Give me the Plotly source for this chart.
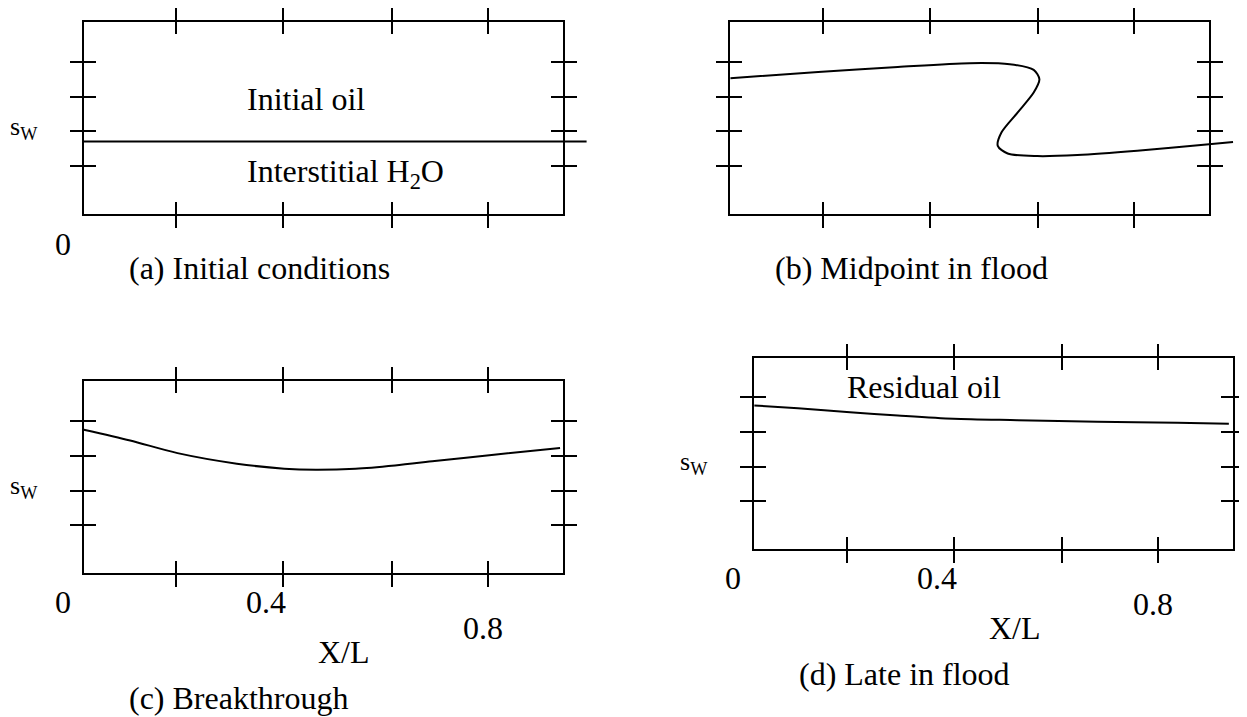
import plotly.graph_objects as go

# ---------------- data ----------------
# (a) initial conditions: flat interstitial water saturation
a_x = [0.017, 0.983]
a_s = [0.34, 0.34]
# (b) midpoint in flood (multi-valued S-shaped profile)
b_x = [0.017, 0.186, 0.339, 0.477, 0.554, 0.600, 0.611, 0.600, 0.569, 0.538,
       0.531, 0.550, 0.607, 0.684, 0.799, 0.937, 0.983]
b_s = [0.706, 0.742, 0.771, 0.793, 0.787, 0.754, 0.700, 0.623, 0.507, 0.392,
       0.315, 0.271, 0.256, 0.262, 0.287, 0.325, 0.338]
# (c) breakthrough
c_x = [0.017, 0.106, 0.197, 0.311, 0.402, 0.463, 0.539, 0.615, 0.691, 0.805, 0.932]
c_s = [0.752, 0.690, 0.617, 0.556, 0.527, 0.521, 0.527, 0.546, 0.571, 0.608, 0.646]
# (d) late in flood
d_x = [0.017, 0.101, 0.201, 0.293, 0.400, 0.523, 0.676, 0.830, 0.929]
d_s = [0.754, 0.738, 0.715, 0.696, 0.677, 0.669, 0.660, 0.654, 0.648]

x_ticks = [0.195, 0.40, 0.609, 0.793]
y_ticks = [0.2, 0.4, 0.6, 0.8]
x_tick_labels = ["0", "0.4", "0.8"]
captions = ["(a) Initial conditions", "(b) Midpoint in flood",
            "(c) Breakthrough", "(d) Late in flood"]

# ---------------- layout geometry ----------------
OFF = 8                     # the page body adds an 8px margin
W, H = 1247 - OFF, 717 - OFF
BW, BH = 480, 192
X_RANGE = [0.017, 0.937]
Y_RANGE = [-0.077, 1.031]
FONT = "Liberation Serif"
FS = 32

panels = [
    dict(left=84, top=21, x=a_x, y=a_s, ext=30),
    dict(left=732, top=21, x=b_x, y=b_s, ext=30),
    dict(left=84, top=381, x=c_x, y=c_s, ext=0),
    dict(left=756, top=357, x=d_x, y=d_s, ext=0),
]

fig = go.Figure()
layout = dict(
    width=W, height=H,
    margin=dict(l=0, r=0, t=0, b=0),
    paper_bgcolor="white", plot_bgcolor="rgba(0,0,0,0)",
    showlegend=False,
    font=dict(family=FONT, size=FS, color="black"),
)
annotations = []


def px(xp):
    return (xp - OFF) / W


def py(yp):
    return 1 - (yp - OFF) / H


def ann(xp, yp, text, xanchor="left", size=FS):
    annotations.append(dict(
        x=px(xp), y=py(yp), xref="paper", yref="paper", text=text,
        showarrow=False, xanchor=xanchor, yanchor="middle",
        font=dict(family=FONT, size=size, color="black")))


def axis_common(**kw):
    d = dict(showgrid=False, zeroline=False, showticklabels=False,
             linecolor="black", linewidth=2, tickcolor="black", tickwidth=2)
    d.update(kw)
    return d


def nm(n, a):
    return a if n == 1 else f"{a}{n}"


for i, p in enumerate(panels):
    L, T = p["left"], p["top"]
    xd = [px(L), px(L + BW)]
    yd = [py(T + BH), py(T)]
    n_main, n_in, n_cur = 3 * i + 1, 3 * i + 2, 3 * i + 3

    # main axes: frame + outside ticks
    layout[nm(n_main, "xaxis")] = axis_common(
        domain=xd, range=X_RANGE, anchor=nm(n_main, "y"), showline=True,
        mirror="ticks", ticks="outside", ticklen=12, tickvals=x_ticks)
    layout[nm(n_main, "yaxis")] = axis_common(
        domain=yd, range=Y_RANGE, anchor=nm(n_main, "x"), showline=True,
        mirror="ticks", ticks="outside", ticklen=12, tickvals=y_ticks)
    # inner axes: inside ticks (so the ticks cross the frame)
    layout[nm(n_in, "xaxis")] = axis_common(
        domain=xd, range=X_RANGE, anchor=nm(n_in, "y"), showline=True,
        mirror="ticks", ticks="inside", ticklen=12, tickvals=x_ticks)
    layout[nm(n_in, "yaxis")] = axis_common(
        domain=yd, range=Y_RANGE, anchor=nm(n_in, "x"), showline=True,
        mirror="ticks", ticks="inside", ticklen=12, tickvals=y_ticks)
    for n in (n_main, n_in):
        fig.add_trace(go.Scatter(x=[], y=[], xaxis=nm(n, "x"), yaxis=nm(n, "y"),
                                 hoverinfo="skip", showlegend=False))

    # curve axes (wider to the right when the curve runs past the frame)
    ext = p["ext"]
    xr_max = X_RANGE[0] + (X_RANGE[1] - X_RANGE[0]) * (BW + ext) / BW
    layout[nm(n_cur, "xaxis")] = dict(
        domain=[px(L), px(L + BW + ext)], range=[X_RANGE[0], xr_max],
        anchor=nm(n_cur, "y"), visible=False)
    layout[nm(n_cur, "yaxis")] = dict(
        domain=yd, range=Y_RANGE, anchor=nm(n_cur, "x"), visible=False)
    fig.add_trace(go.Scatter(
        x=p["x"], y=p["y"], mode="lines",
        line=dict(color="black", width=2, shape="spline", smoothing=0.8),
        xaxis=nm(n_cur, "x"), yaxis=nm(n_cur, "y"),
        hoverinfo="skip", showlegend=False))

    B = T + BH
    # caption
    ann(L + 43, B + (54 if i < 2 else 125), captions[i])
    # s_w label
    if i != 1:
        ann(L - 76, T + 106, "s<sub>W</sub>", size=26)
    # x tick labels
    if i == 0:
        ann(L - 21, B + 30, "0", xanchor="center")
    if i >= 2:
        offs = [(-21, 29), (183, 29), (400, 55)]
        for (dx, dy), lab in zip(offs, x_tick_labels):
            ann(L + dx, B + dy, lab, xanchor="center")
        ann(L + 261, B + 79, "X/L", xanchor="center")

# in-panel texts
ann(84 + 162, 21 + 77, "Initial oil")
ann(84 + 162, 21 + 152, "Interstitial H<sub>2</sub>O")
ann(756 + 91, 357 + 30, "Residual oil")

layout["annotations"] = annotations
fig.update_layout(**layout)
fig.write_html("out.html")
